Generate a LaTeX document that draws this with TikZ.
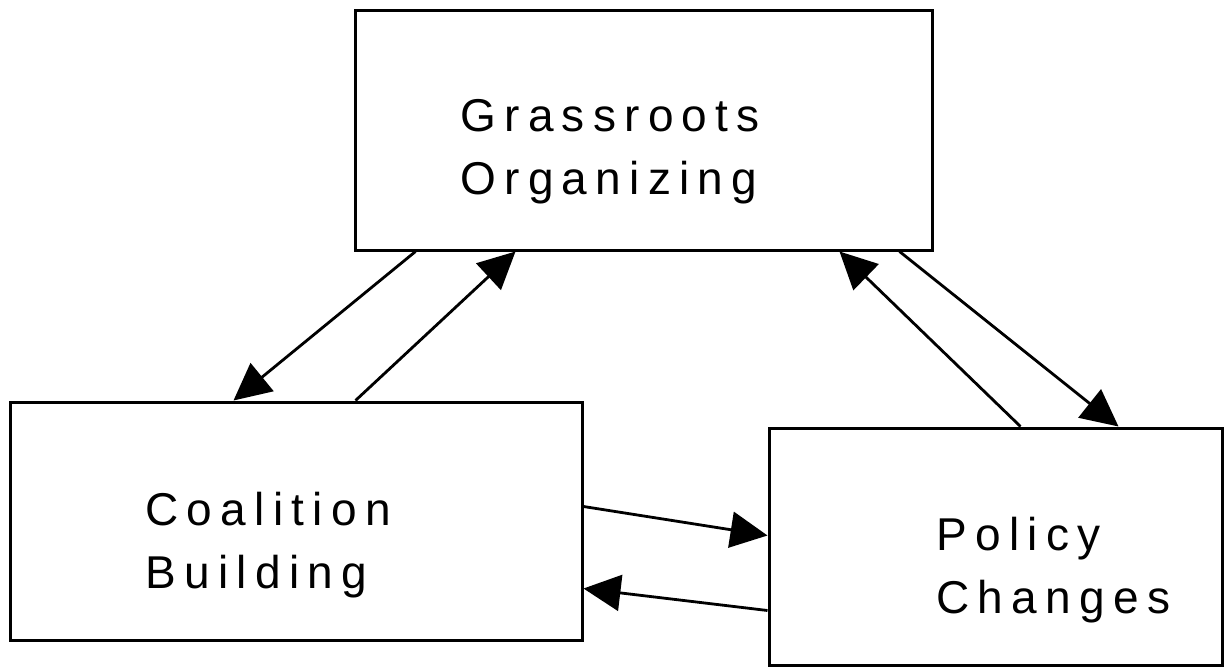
\documentclass[tikz,border=0pt]{standalone}
\usepackage{fontspec}
\setmainfont{Liberation Sans}[LetterSpace=18]
\usetikzlibrary{arrows.meta,calc}

\begin{document}
\begin{tikzpicture}
                [x=0.5pt,y=-0.5pt,
                box/.style={draw,rectangle,line width=1.5pt,inner sep=0pt},
                lbl/.style={anchor=base west,inner sep=0pt,align=left,
                    font=\fontsize{23}{31.5}\selectfont},
                conn/.style={line width=1.4pt,-{Triangle[length=18.5pt,width=18pt]}}]
                \useasboundingbox (0,0) rectangle (1225,669);
                % the three boxes
                \node[box,minimum width=288.5pt,minimum height=120pt] (gr) at (643.5,130) {};
                \node[box,minimum width=286pt,minimum height=119pt] (cb) at (296,521) {};
                \node[box,minimum width=226.5pt,minimum height=118.5pt] (pc) at (995.5,546.5) {};
                % their texts (base = last line)
                \node[lbl] (grtext) at (460,194) {Grassroots\\Organizing};
                \node[lbl] (cbtext) at (145,588) {Coalition\\Building};
                \node[lbl] (pctext) at (936,613) {Policy\\Changes};
                % connectors
                \draw[conn] ($(gr.south west)+(62,0)$) -- ($(cb.north west)+(225,0)$);
                \draw[conn] ($(cb.north west)+(347,0)$) -- ($(gr.south west)+(162,0)$);
                \draw[conn] ($(gr.south east)+(-34,0)$) -- ($(pc.north west)+(351,0)$);
                \draw[conn] ($(pc.north west)+(253,0)$) -- ($(gr.south east)+(-94,0)$);
                \draw[conn] ($(cb.north east)+(0,106)$) -- ($(pc.north west)+(0,109)$);
                \draw[conn] ($(pc.north west)+(0,184)$) -- ($(cb.north east)+(0,188)$);
            \end{tikzpicture}
\end{document}
